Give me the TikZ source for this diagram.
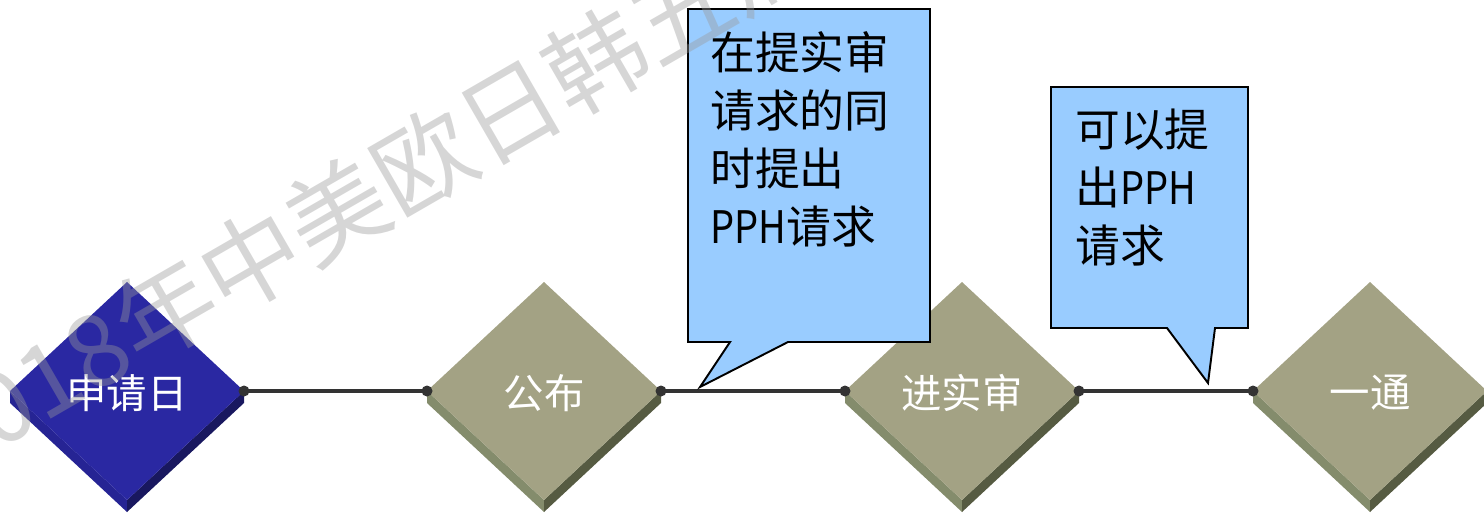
\documentclass[tikz,border=0pt]{standalone}
\usepackage{fontspec}
\usepackage{graphicx}
\setmainfont{Noto Sans CJK SC}
\definecolor{olivetop}{RGB}{163,162,132}
\definecolor{oliveleft}{RGB}{132,140,108}
\definecolor{oliveright}{RGB}{86,91,66}
\definecolor{bluetop}{RGB}{42,40,162}
\definecolor{blueleft}{RGB}{38,36,148}
\definecolor{blueright}{RGB}{25,24,95}
\definecolor{calloutfill}{RGB}{153,204,255}
\definecolor{linegray}{RGB}{51,51,51}
\tikzset{
  dlabel/.style={text=white, font=\fontsize{23}{23}\selectfont, inner sep=0pt},
  conn/.style={draw=linegray, line width=1.8pt},
  dotmark/.style={fill=linegray},
  callout/.style={fill=calloutfill, draw=black, line width=1.1pt, line join=miter},
  ctext/.style={align=left, anchor=north west, inner sep=0pt, font=\fontsize{25.5}{33}\selectfont},
  wm/.style={text=black!40, opacity=0.4, rotate=30, inner sep=0pt, font=\fontsize{56.7}{56.7}\selectfont}
}
\begin{document}
\begin{tikzpicture}[x=0.02cm,y=-0.02cm]
\useasboundingbox (0,0) rectangle (1484,515);
\clip (0,0) rectangle (1484,515);
% diamonds
\foreach \n/\cx/\c/\t in {d1/127/blue/申请日, d2/544/olive/公布, d3/962/olive/进实审, d4/1370/olive/一通}{
  \fill[\c left] (\cx-117,391) -- (\cx,500) -- (\cx,512) -- (\cx-117,403) -- cycle;
  \fill[\c right] (\cx,500) -- (\cx+117,391) -- (\cx+117,403) -- (\cx,512) -- cycle;
  \fill[\c top] (\cx,282) -- (\cx+117,391) -- (\cx,500) -- (\cx-117,391) -- cycle;
  \coordinate (\n w) at (\cx-117,391);
  \coordinate (\n e) at (\cx+117,391);
  \node[dlabel] (\n) at (\cx,393) {\t};
}
% connectors
\draw[conn] (d1e) -- (d2w);
\draw[conn] (d2e) -- (d3w);
\draw[conn] (d3e) -- (d4w);
\foreach \p in {d1e,d2w,d2e,d3w,d3e,d4w}{\fill[dotmark] (\p) circle (5.5);}
% callouts
\draw[callout] (688,9) -- (930,9) -- (930,342) -- (788,342) -- (700,387) -- (730,342) -- (688,342) -- cycle;
\node[ctext] (c1) at (710,31) {在提实审\\请求的同\\时提出\\\scalebox{0.85}[1]{PPH}请求};
\draw[callout] (1051,87) -- (1248,87) -- (1248,328) -- (1215,328) -- (1208,383) -- (1167,328) -- (1051,328) -- cycle;
\node[ctext] (c2) at (1075,109) {可以提\\出\scalebox{0.85}[1]{PPH}\\请求};
% watermark
\node[wm, anchor=base west] (wmB) at (140,368) {年中美欧日韩五局};
\node[wm, anchor=base east] (wmA) at (wmB.base west) {2018};
\end{tikzpicture}
\end{document}
